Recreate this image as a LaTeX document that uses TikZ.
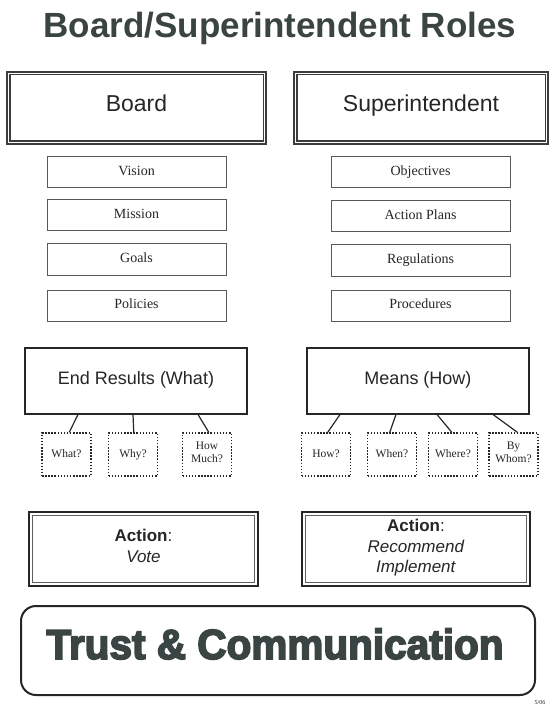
\documentclass[tikz,border=0pt]{standalone}
\usepackage{fontspec}
\setmainfont{Liberation Serif}
\newfontfamily\arial{Liberation Sans}
\newfontfamily\heavyfont{Liberation Sans}[BoldFeatures={FakeBold=4}]
\definecolor{ink}{HTML}{262626}
\definecolor{titleink}{HTML}{3A4442}
\definecolor{boxline}{HTML}{3C3C3C}
\tikzset{
  rolebox/.style={draw=boxline, line width=1.3pt, inner sep=0pt, minimum height=72pt,
    text height=0.716em, text depth=0pt,
    font=\arial\fontsize{23}{27}\selectfont, text=ink},
  itembox/.style={draw=boxline!85, line width=1pt, inner sep=0pt, minimum width=179pt, minimum height=31pt,
    text height=0.662em, text depth=0pt,
    font=\fontsize{14}{16}\selectfont, text=ink},
  mainbox/.style={draw=ink, line width=2pt, inner sep=0pt, minimum width=222pt, minimum height=66pt,
    text height=0.716em, text depth=0pt,
    font=\arial\fontsize{18}{21}\selectfont, text=ink},
  qbox/.style={draw=ink, line width=1.5pt, dash pattern=on 1.5pt off 1.6pt, inner sep=0pt,
    minimum width=49pt, minimum height=43pt, align=center, font=\fontsize{11.5}{13}\selectfont, text=ink,
    execute at begin node=\strut, execute at end node=\strut},
  actbox/.style={draw=ink, line width=2.6pt, inner sep=0pt, minimum height=74pt, align=center,
    font=\arial\fontsize{17}{20.5}\selectfont, text=ink,
    execute at begin node=\strut, execute at end node=\strut},
  innerline/.style={draw=boxline, line width=1.3pt},
  actinner/.style={draw=gray!75!black, line width=0.9pt},
  link/.style={draw=ink, line width=1.2pt}
}
\begin{document}
\begin{tikzpicture}[x=1pt,y=-1pt]
\useasboundingbox (0,0) rectangle (550,708);
\fill[white] (0,0) rectangle (550,708);

% title
\node[anchor=base, inner sep=0pt, text=titleink, font=\arial\bfseries\fontsize{35}{40}\selectfont] (title) at (280,38) {Board/Superintendent Roles};

% role boxes
\node[rolebox, minimum width=259pt] (board) at (136.5,108) {Board};
\node[rolebox, minimum width=254pt] (supt) at (421,108) {Superintendent};
\foreach \n in {board,supt}
  \draw[innerline] ([shift={(3.5pt,-3.5pt)}]\n.north west) rectangle ([shift={(-3.5pt,3.5pt)}]\n.south east);

% item boxes
\node[itembox] (vision) at (136.5,172.5) {Vision};
\node[itembox] (mission) at (136.5,215.5) {Mission};
\node[itembox] (goals) at (136.5,259.5) {Goals};
\node[itembox] (policies) at (136.5,305.5) {Policies};
\node[itembox] (objectives) at (420.5,172.5) {Objectives};
\node[itembox] (plans) at (420.5,216.5) {Action Plans};
\node[itembox] (regs) at (420.5,260.5) {Regulations};
\node[itembox] (procs) at (420.5,305.5) {Procedures};

% main boxes
\node[mainbox] (er) at (136,380.5) {End Results (What)};
\node[mainbox] (means) at (418,380.5) {Means (How)};

% question boxes
\node[qbox] (what) at (66.5,454.5) {What?};
\node[qbox] (why) at (133,454.5) {Why?};
\node[qbox] (howmuch) at (207,454.5) {How\\Much?};
\node[qbox] (how) at (326,454.5) {How?};
\node[qbox] (when) at (392,454.5) {When?};
\node[qbox] (where) at (453,454.5) {Where?};
\node[qbox] (bywhom) at (513.5,454.5) {By\\Whom?};

% connectors
\draw[link] ([xshift=54pt]er.south west) -- ([xshift=28pt]what.north west);
\draw[link] ([xshift=109pt]er.south west) -- ([xshift=26pt]why.north west);
\draw[link] ([xshift=174pt]er.south west) -- ([xshift=27pt]howmuch.north west);
\draw[link] ([xshift=34pt]means.south west) -- ([xshift=27pt]how.north west);
\draw[link] ([xshift=90pt]means.south west) -- ([xshift=23pt]when.north west);
\draw[link] ([xshift=131pt]means.south west) -- ([xshift=24pt]where.north west);
\draw[link] ([xshift=187pt]means.south west) -- ([xshift=29pt]bywhom.north west);

% action boxes
\node[actbox, minimum width=229pt] (actl) at (143.5,549) {\textbf{Action}:\\\textit{Vote}};
\node[actbox, minimum width=228pt] (actr) at (416,549) {\textbf{Action}:\\\textit{Recommend}\\\textit{Implement}};
\foreach \n in {actl,actr}
  \draw[actinner] ([shift={(4.5pt,-4.5pt)}]\n.north west) rectangle ([shift={(-4.5pt,4.5pt)}]\n.south east);

% trust box
\node[draw=ink, line width=2pt, rounded corners=15pt, minimum width=514pt, minimum height=89pt, inner sep=0pt] (trust) at (278,650.5) {};
\node[anchor=base, inner sep=0pt, text=titleink, xscale=0.965, font=\heavyfont\bfseries\fontsize{42}{46}\selectfont] (trusttext) at (275,659) {Trust \& Communication};

% date
\node[anchor=base, inner sep=0pt, text=ink, font=\fontsize{6}{7}\selectfont] (date) at (540,704) {5/06};
\end{tikzpicture}
\end{document}
